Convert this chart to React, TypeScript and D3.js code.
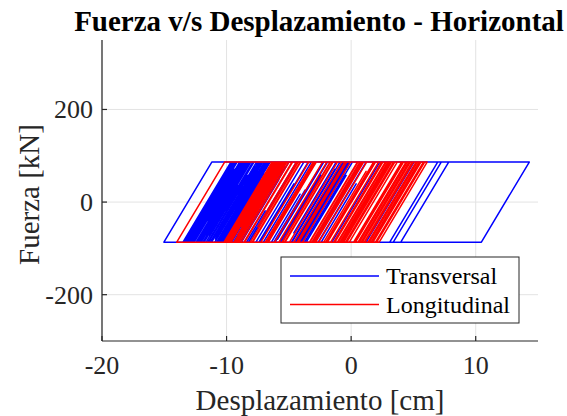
import React from "react";
import * as d3 from "d3";

// Hysteresis loops of the isolator: force vs horizontal displacement.
const TITLE = "Fuerza v/s Desplazamiento - Horizontal";
const X_LABEL = "Desplazamiento [cm]";
const Y_LABEL = "Fuerza [kN]";

const X_TICKS = [-20, -10, 0, 10];
const Y_TICKS = [-200, 0, 200];
const X_DOMAIN = [-20, 15];
const Y_DOMAIN = [-300, 350];

// Bilinear (elastic–perfectly plastic) behaviour of the isolator
const YIELD_FORCE = 86.5; // kN
const ELASTIC_STIFFNESS = 45; // kN/cm

// Displacement reversal points [cm] for each direction
const transversalReversals = [
  7.83, 3.1, 7.23, 1.2, 14.3, -15.03,
  -8.9, -13.4, -7.6, -12.8, -6.9, -11.9, -7.8, -13.1, -8.6, -12.4, -7.1, -12.9,
  -9.4, -13.2, -8.1, -11.6, -6.8, -11.2, -7.4, -12.1, -8.8, -12.7, -7.9, -11.4,
  -6.5, -10.8, -5.6, -10.1, -4.4, -9.3, -3.2, -8.4, -6.9, -10.6, -7.7, -11.8,
  -9.1, -12.6, -8.3, -11.9, -7.2, -10.9, -6.1, -10.4, -5.0, -9.6, -3.8, -8.2,
  -1.9, -6.1, -0.3, -4.5, 0.1, -3.9, -0.6, -4.3, -0.2, -4.8, -1.3, -5.6, -2.4,
  -6.7, -3.6, -7.3, -2.2, -5.9, -0.9, -4.7, 1.2, -3.1, 2.3, -2.4, 0.4, -3.6,
  -0.4, -4.1, -1.8, -6.4, -4.1, -8.9, -5.3, -9.7, -6.0, -10.3, -7.0,
  -11.3, -7.5, -12.2, -8.2, -13.0, -9.6, -12.8, -8.5, -11.7, -6.9, -10.7, -7.8,
  -12.4, -9.0, -13.5, -9.8, -12.9, -8.7, -11.5, -7.3, -10.9, -6.6, -10.5, -7.6,
  -11.9, -8.9, -13.1, -9.3, -12.0, -7.9, -11.1, -7.1, -10.8, -8.0, -12.3, -9.5,
  -13.3, -8.4, -11.6, -6.7, -10.6, -5.4, -9.1, -1.2, -4.6, -0.1, -4.2, -0.5,
  -4.4, -0.3, -4.0, -2.9, -6.2, -3.7, -7.4, -4.6, -8.8, -5.8, -10.2, -7.2,
  -11.5, -8.3, -12.7, -9.2,
];

const longitudinalReversals = [
  3.4, -1.1, 6.1, 1.6, 5.5, 0.8, 4.9, 1.9, 5.8, 0.2, 4.2, -0.9, 3.7, -14.0,
  -5.9, -10.2, -5.4, -9.8, -6.2, -10.0, -5.2, -9.4, -6.0, -10.1, -5.6, -9.1,
  -4.7, -8.6, -3.4, -7.9, -2.3, -6.8, -1.1, -5.3, 0.5, -3.9, 1.8, -2.6, 3.0,
  -1.4, 2.4, -2.2, 1.2, -3.3, 0.7, -4.6, -0.5, -5.8, -1.7, -6.9, -2.8, -8.1,
  -4.1, -9.0, -5.0, -9.7, -5.7, -8.8, -4.4, -7.5, -2.9, -6.6, -1.5, -5.5, 0.9,
  -3.0, 2.2, -1.9, 3.5, -0.7, 4.5, 0.3, 5.2, 1.1, 2.6, -2.0, 0.0,
  -4.2, 2.8, -1.3, 4.4, 0.2, 5.3, 1.4, 3.6, -0.6, 4.9, 0.9, 5.9, 2.1, 4.3,
  -9.9, -5.8, -10.0, -6.2, -9.6, -5.5, -10.1, -6.0, -9.4, -5.3, -9.8, -5.9,
  -10.0, -6.1, -9.2, -5.6, -8.8, 1.0, -2.9, 3.1, -0.8, 5.0, 1.5, 5.6, 2.2,
  4.1, 0.6, 2.5, -1.0,
];

const SERIES = [
  { name: "Transversal", color: "#0000ff", reversals: transversalReversals },
  { name: "Longitudinal", color: "#ff0000", reversals: longitudinalReversals },
];

// Follow the bilinear law through the reversal history and return the loop vertices.
function loopPoints(reversals: number[]): [number, number][] {
  let x = 0;
  let f = 0;
  const pts: [number, number][] = [[x, f]];
  for (const t of reversals) {
    if (t > x) {
      const xy = x + (YIELD_FORCE - f) / ELASTIC_STIFFNESS;
      if (t <= xy) {
        f = f + ELASTIC_STIFFNESS * (t - x);
        pts.push([t, f]);
      } else {
        pts.push([xy, YIELD_FORCE]);
        pts.push([t, YIELD_FORCE]);
        f = YIELD_FORCE;
      }
    } else {
      const xy = x - (f + YIELD_FORCE) / ELASTIC_STIFFNESS;
      if (t >= xy) {
        f = f - ELASTIC_STIFFNESS * (x - t);
        pts.push([t, f]);
      } else {
        pts.push([xy, -YIELD_FORCE]);
        pts.push([t, -YIELD_FORCE]);
        f = -YIELD_FORCE;
      }
    }
    x = t;
  }
  return pts;
}

const W = 567;
const H = 416;
const M = { left: 102, right: 538, top: 40, bottom: 341 };
const FONT = "'Liberation Serif', 'Times New Roman', serif";
const AXIS = "#262626";
const GRID = "#e3e3e3";

export default function App() {
  const x = d3.scaleLinear().domain(X_DOMAIN).range([M.left, M.right]);
  const y = d3.scaleLinear().domain(Y_DOMAIN).range([M.bottom, M.top]);
  const line = d3
    .line<[number, number]>()
    .x((d) => x(d[0]))
    .y((d) => y(d[1]));

  const legend = { x0: 281, y0: 257, w: 238, h: 66 };

  return (
    <svg
      width={W}
      height={H}
      style={{ position: "absolute", left: 0, top: 0, background: "#fff" }}
      fontFamily={FONT}
    >
      <rect width={W} height={H} fill="#fff" />
      {/* grid */}
      {X_TICKS.map((t) => (
        <line key={"gx" + t} x1={x(t)} x2={x(t)} y1={M.top} y2={M.bottom} stroke={GRID} strokeWidth={1} />
      ))}
      {Y_TICKS.map((t) => (
        <line key={"gy" + t} x1={M.left} x2={M.right} y1={y(t)} y2={y(t)} stroke={GRID} strokeWidth={1} />
      ))}

      {/* hysteresis loops */}
      <g clipPath="url(#plotClip)">
        {SERIES.map((s) => (
          <path
            key={s.name}
            d={line(loopPoints(s.reversals)) || ""}
            fill="none"
            stroke={s.color}
            strokeWidth={1.5}
            strokeLinejoin="round"
          />
        ))}
      </g>
      <defs>
        <clipPath id="plotClip">
          <rect x={M.left} y={M.top} width={M.right - M.left} height={M.bottom - M.top} />
        </clipPath>
      </defs>

      {/* axes */}
      <line x1={M.left} x2={M.left} y1={M.top} y2={M.bottom} stroke={AXIS} strokeWidth={1.2} />
      <line x1={M.left} x2={M.right} y1={M.bottom} y2={M.bottom} stroke={AXIS} strokeWidth={1.2} />
      {X_TICKS.map((t) => (
        <g key={"tx" + t}>
          <line x1={x(t)} x2={x(t)} y1={M.bottom} y2={M.bottom - 5} stroke={AXIS} strokeWidth={1.2} />
          <text x={x(t)} y={374} textAnchor="middle" fontSize={26} fill={AXIS}>
            {t}
          </text>
        </g>
      ))}
      {Y_TICKS.map((t) => (
        <g key={"ty" + t}>
          <line x1={M.left} x2={M.left + 5} y1={y(t)} y2={y(t)} stroke={AXIS} strokeWidth={1.2} />
          <text x={93} y={y(t) + 9} textAnchor="end" fontSize={26} fill={AXIS}>
            {t}
          </text>
        </g>
      ))}

      {/* labels */}
      <text x={(M.left + M.right) / 2} y={410} textAnchor="middle" fontSize={29} fill={AXIS}>
        {X_LABEL}
      </text>
      <text
        transform={`translate(39, ${(M.top + M.bottom) / 2 + 4}) rotate(-90)`}
        textAnchor="middle"
        fontSize={29}
        fill={AXIS}
      >
        {Y_LABEL}
      </text>
      <text x={319} y={31} textAnchor="middle" fontSize={29} fontWeight="bold" fill="#000">
        {TITLE}
      </text>

      {/* legend */}
      <rect
        x={legend.x0}
        y={legend.y0}
        width={legend.w}
        height={legend.h}
        fill="#fff"
        stroke={AXIS}
        strokeWidth={1}
      />
      {SERIES.map((s, i) => (
        <g key={"lg" + s.name}>
          <line x1={290} x2={379} y1={276 + i * 28.5} y2={276 + i * 28.5} stroke={s.color} strokeWidth={1.4} />
          <text x={386} y={276 + i * 28.5 + 8} fontSize={24} fill="#000">
            {s.name}
          </text>
        </g>
      ))}
    </svg>
  );
}
